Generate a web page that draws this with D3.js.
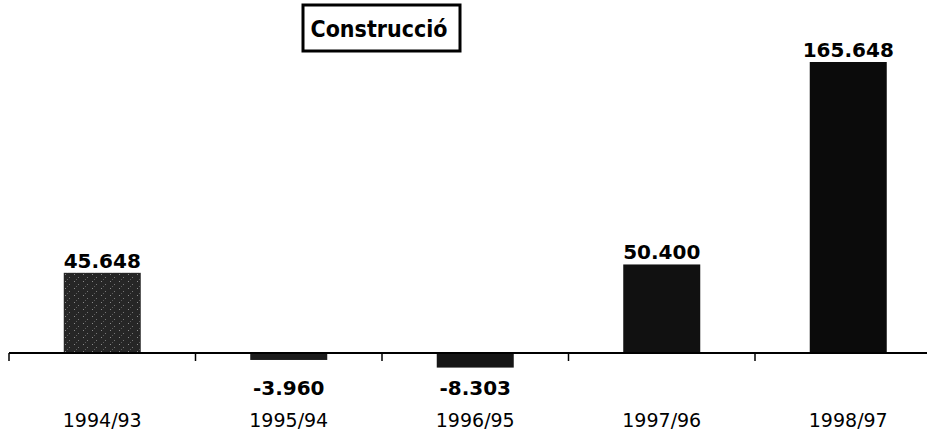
<!DOCTYPE html>
<html>
<head>
<meta charset="utf-8">
<script src="https://cdn.jsdelivr.net/npm/d3@7"></script>
<style>
  body { margin: 0; background: #fff; }
  svg { display: block; }
</style>
</head>
<body>
<svg id="chart" width="927" height="439"></svg>
<script>
'use strict';

// Data
var categories = ["1994/93", "1995/94", "1996/95", "1997/96", "1998/97"];
var values = [45.648, -3.960, -8.303, 50.400, 165.648];
var value_labels = ["45.648", "-3.960", "-8.303", "50.400", "165.648"];
var title_text = "Construcció";

var svg = d3.select("#chart");

var x = d3.scaleBand()
	.domain(categories)
	.range([9, 941.5]);

var y = d3.scaleLinear()
	.domain([0, 165.648])
	.range([353, 62]);

var bw = 77;
var fills = ["#2e2e2e", "#1c1c1c", "#161616", "#111", "#0b0b0b"];

var rows = categories.map(function(c, i){
	return {cat: c, value: values[i], label: value_labels[i], fill: fills[i]};
});

// speckled texture like the scanned bars
var defs = svg.append("defs");
var pat = defs.append("pattern")
	.attr("id", "speckle")
	.attr("width", 9).attr("height", 7)
	.attr("patternUnits", "userSpaceOnUse");
pat.append("rect").attr("width", 9).attr("height", 7).attr("fill", "#262626");
pat.append("rect").attr("x", 2).attr("y", 1).attr("width", 1).attr("height", 1).attr("fill", "#8a8a8a");
pat.append("rect").attr("x", 6).attr("y", 4).attr("width", 1).attr("height", 1).attr("fill", "#777");
pat.append("rect").attr("x", 4).attr("y", 6).attr("width", 1).attr("height", 1).attr("fill", "#5a5a5a");

// bars
svg.append("g").selectAll("rect")
	.data(rows)
	.enter().append("rect")
	.attr("x", function(d){ return x(d.cat) + (x.bandwidth() - bw) / 2; })
	.attr("width", bw)
	.attr("y", function(d){ return y(Math.max(0, d.value)); })
	.attr("height", function(d){ return Math.abs(y(d.value) - y(0)); })
	.attr("fill", function(d, i){ return i == 0 ? "url(#speckle)" : d.fill; });

// axis line + ticks between categories
var axis = svg.append("g").attr("transform", "translate(0," + y(0) + ")");
axis.append("line")
	.attr("x1", 9).attr("x2", 927)
	.attr("y1", 0).attr("y2", 0)
	.attr("stroke", "#000").attr("stroke-width", 2);
axis.selectAll(".tick")
	.data(categories)
	.enter().append("line")
	.attr("x1", function(d){ return x(d); })
	.attr("x2", function(d){ return x(d); })
	.attr("y1", 0).attr("y2", 8)
	.attr("stroke", "#000").attr("stroke-width", 1.5);

// value labels
svg.append("g").selectAll("text")
	.data(rows)
	.enter().append("text")
	.attr("x", function(d){ return x(d.cat) + x.bandwidth() / 2; })
	.attr("y", function(d){ return d.value >= 0 ? y(d.value) - 5 : y(0) + 42; })
	.attr("text-anchor", "middle")
	.attr("font-family", "DejaVu Sans, Verdana, sans-serif")
	.attr("font-weight", "bold")
	.attr("font-size", 20)
	.attr("fill", "#000")
	.text(function(d){ return d.label; });

// category labels
svg.append("g").selectAll("text")
	.data(categories)
	.enter().append("text")
	.attr("x", function(d){ return x(d) + x.bandwidth() / 2; })
	.attr("y", 427)
	.attr("text-anchor", "middle")
	.attr("font-family", "DejaVu Sans, Verdana, sans-serif")
	.attr("font-size", 19)
	.attr("fill", "#000")
	.text(function(d){ return d; });

// title box
var title = svg.append("g");
title.append("rect")
	.attr("x", 303).attr("y", 5)
	.attr("width", 157).attr("height", 46)
	.attr("fill", "#fff")
	.attr("stroke", "#000").attr("stroke-width", 3);
title.append("text")
	.attr("x", 379).attr("y", 37)
	.attr("text-anchor", "middle")
	.attr("font-family", "DejaVu Sans, Verdana, sans-serif")
	.attr("font-weight", "bold")
	.attr("font-size", 23)
	.attr("textLength", 137)
	.attr("lengthAdjust", "spacingAndGlyphs")
	.text(title_text);
</script>
</body>
</html>
